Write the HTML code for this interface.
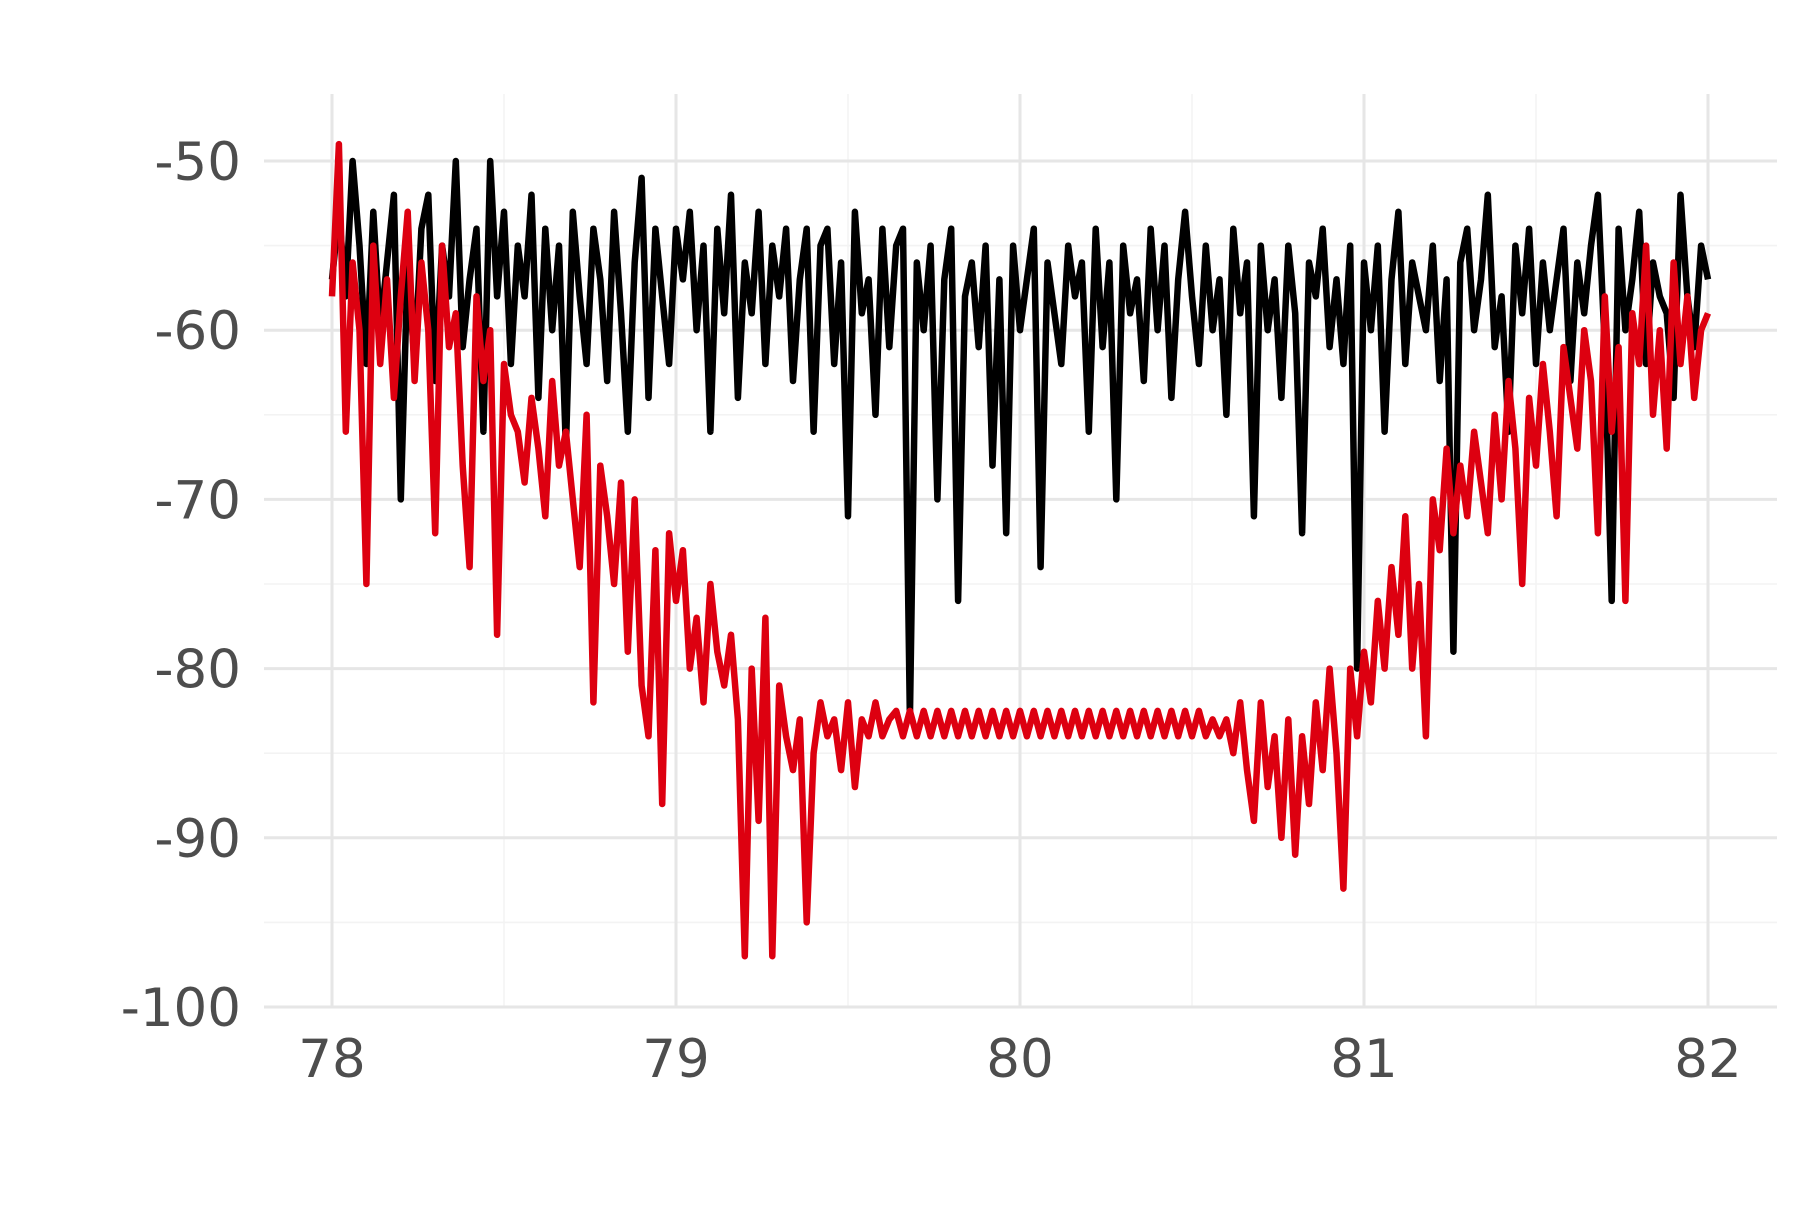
<!DOCTYPE html>
<html><head><meta charset="utf-8"><style>
html,body{margin:0;padding:0;background:#fff}
svg text{font-family:"DejaVu Sans","Liberation Sans",sans-serif;fill:#4d4d4d;font-size:53px}
</style></head><body>
<svg id="chart" width="1800" height="1200" viewBox="0 0 1800 1200" xmlns="http://www.w3.org/2000/svg">
<g id="grid"></g>
<g id="series"></g>
<g id="axes"></g>
</svg>
<script>
const xTicks=[78,79,80,81,82];
const yTicks=[-50,-60,-70,-80,-90,-100];
const xStart=78, xStep=0.02;
const blackSeries=[-57,-53,-58,-50,-55,-62,-53,-60,-56,-52,
-70,-56,-62,-54,-52,-63,-55,-58,-50,-61,
-57,-54,-66,-50,-58,-53,-62,-55,-58,-52,
-64,-54,-60,-55,-67,-53,-58,-62,-54,-57,
-63,-53,-59,-66,-56,-51,-64,-54,-58,-62,
-54,-57,-53,-60,-55,-66,-54,-59,-52,-64,
-56,-59,-53,-62,-55,-58,-54,-63,-57,-54,
-66,-55,-54,-62,-56,-71,-53,-59,-57,-65,
-54,-61,-55,-54,-83,-56,-60,-55,-70,-57,
-54,-76,-58,-56,-61,-55,-68,-57,-72,-55,
-60,-57,-54,-74,-56,-59,-62,-55,-58,-56,
-66,-54,-61,-56,-70,-55,-59,-57,-63,-54,
-60,-55,-64,-57,-53,-58,-62,-55,-60,-57,
-65,-54,-59,-56,-71,-55,-60,-57,-64,-55,
-59,-72,-56,-58,-54,-61,-57,-62,-55,-80,
-56,-60,-55,-66,-57,-53,-62,-56,-58,-60,
-55,-63,-57,-79,-56,-54,-60,-57,-52,-61,
-58,-66,-55,-59,-54,-62,-56,-60,-57,-54,
-63,-56,-59,-55,-52,-61,-76,-54,-60,-57,
-53,-62,-56,-58,-59,-64,-52,-58,-61,-55,
-57];
const redSeries=[-58,-49,-66,-56,-60,-75,-55,-62,-57,-64,
-58,-53,-63,-56,-60,-72,-55,-61,-59,-68,
-74,-58,-63,-60,-78,-62,-65,-66,-69,-64,
-67,-71,-63,-68,-66,-70,-74,-65,-82,-68,
-71,-75,-69,-79,-70,-81,-84,-73,-88,-72,
-76,-73,-80,-77,-82,-75,-79,-81,-78,-83,
-97,-80,-89,-77,-97,-81,-84,-86,-83,-95,
-85,-82,-84,-83,-86,-82,-87,-83,-84,-82,
-84,-83,-82.5,-84,-82.5,-84,-82.5,-84,-82.5,-84,
-82.5,-84,-82.5,-84,-82.5,-84,-82.5,-84,-82.5,-84,
-82.5,-84,-82.5,-84,-82.5,-84,-82.5,-84,-82.5,-84,
-82.5,-84,-82.5,-84,-82.5,-84,-82.5,-84,-82.5,-84,
-82.5,-84,-82.5,-84,-82.5,-84,-82.5,-84,-83,-84,
-83,-85,-82,-86,-89,-82,-87,-84,-90,-83,
-91,-84,-88,-82,-86,-80,-85,-93,-80,-84,
-79,-82,-76,-80,-74,-78,-71,-80,-75,-84,
-70,-73,-67,-72,-68,-71,-66,-69,-72,-65,
-70,-63,-67,-75,-64,-68,-62,-66,-71,-61,
-64,-67,-60,-63,-72,-58,-66,-61,-76,-59,
-62,-55,-65,-60,-67,-56,-62,-58,-64,-60,
-59];
const NS='http://www.w3.org/2000/svg';
const PL=264,PR=1777,PT=94,PB=1007;
function sx(v){return 332+(v-78)*344;}
function sy(v){return 161+(-50-v)*16.92;}
function mk(tag,attrs,parent){const e=document.createElementNS(NS,tag);for(const k in attrs)e.setAttribute(k,attrs[k]);parent.appendChild(e);return e;}
const grid=document.getElementById('grid'),axes=document.getElementById('axes'),ser=document.getElementById('series');
for(let i=0;i<xTicks.length-1;i++){const v=(xTicks[i]+xTicks[i+1])/2;
 const l=mk('line',{x1:sx(v),x2:sx(v),y1:PT,y2:PB,stroke:'#f3f3f3','stroke-width':1.6},grid);
 
 }
for(let i=0;i<yTicks.length-1;i++){const v=(yTicks[i]+yTicks[i+1])/2;
 const l=mk('line',{x1:PL,x2:PR,y1:sy(v),y2:sy(v),stroke:'#f3f3f3','stroke-width':1.6},grid);
 
 }
xTicks.forEach(v=>{
 const l=mk('line',{x1:sx(v),x2:sx(v),y1:PT,y2:PB,stroke:'#e6e6e6','stroke-width':3},grid);
 
 
 const t=mk('text',{x:sx(v),y:1077,'text-anchor':'middle'},axes);t.textContent=String(v);
 
 });
yTicks.forEach(v=>{
 const l=mk('line',{x1:PL,x2:PR,y1:sy(v),y2:sy(v),stroke:'#e6e6e6','stroke-width':3},grid);
 
 
 const t=mk('text',{x:241,y:sy(v)+19,'text-anchor':'end'},axes);t.textContent=String(v);
 
 });
function draw(arr,color,name){
 const pts=arr.map((v,i)=>sx(xStart+i*xStep).toFixed(1)+','+sy(v).toFixed(1)).join(' ');
 const p=mk('polyline',{points:pts,fill:'none',stroke:color,'stroke-width':6.5,'stroke-linejoin':'round'},ser);
 
 }
draw(blackSeries,'#000000','black-series-line');
draw(redSeries,'#dd0010','red-series-line');
</script>
</body></html>
